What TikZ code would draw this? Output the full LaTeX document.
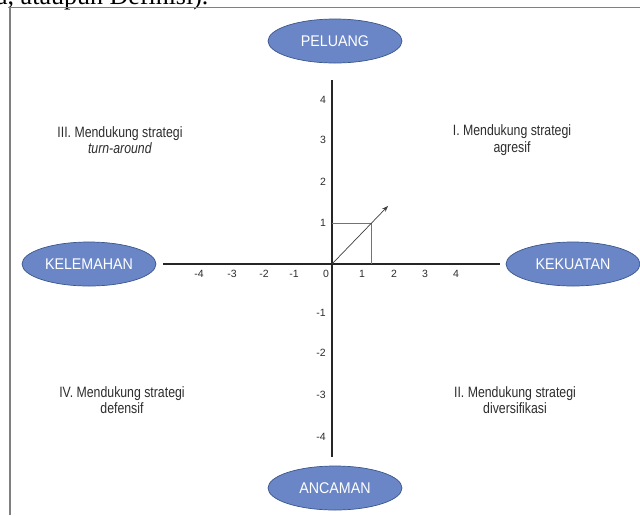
\documentclass[tikz,border=0pt]{standalone}
\usepackage{fontspec}
\setmainfont{Liberation Sans}
\newfontfamily\quadfont[FakeStretch=0.82]{Liberation Sans}
\newfontfamily\ovalfont[FakeStretch=0.92]{Liberation Sans}
\newfontfamily\topfont{Liberation Serif}
\usetikzlibrary{shapes.geometric,arrows.meta}
\definecolor{ovalfill}{RGB}{106,134,198}
\definecolor{ovaldraw}{RGB}{58,86,140}
\definecolor{framec}{RGB}{128,128,128}
\definecolor{txt}{RGB}{45,45,45}
\tikzset{
  oval/.style={ellipse, draw=ovaldraw, fill=ovalfill, line width=0.7pt,
    minimum width=134pt, minimum height=44pt, inner sep=0pt,
    text=white, font=\ovalfont\fontsize{15.5}{16}\selectfont},
  axis/.style={line width=1.7pt, draw=black!85},
  tick/.style={inner sep=0pt, text=txt, font=\fontsize{10.5}{11}\selectfont},
  quad/.style={align=center, inner sep=0pt, text=txt,
    font=\quadfont\fontsize{15}{16.5}\selectfont},
  helper/.style={line width=0.6pt, draw=black!55},
  vec/.style={line width=0.7pt, draw=black!75, -{Stealth[length=6pt,width=4.5pt]}}
}
\begin{document}
\begin{tikzpicture}[x=1pt,y=-1pt]
\useasboundingbox (0,0) rectangle (640,515);
\clip (0,0) rectangle (640,515);
\fill[white] (0,0) rectangle (640,515);
% cut-off text above the frame
\node[anchor=base west, inner sep=0pt, font=\topfont\fontsize{26}{26}\selectfont] (toptext) at (-4,4.5) {a, ataupun Definisi).};
% frame
\coordinate (fr) at (640,7.5);
\coordinate (ftl) at (10,7.5);
\coordinate (fbl) at (10,515);
\draw[framec, line width=1.3pt] (fr) -- (ftl) -- (fbl);
% axes
\coordinate (ytop) at (332,80);
\coordinate (ybot) at (332,457);
\coordinate (xleft) at (163,264);
\coordinate (xright) at (500,264);
\draw[axis] (ytop) -- (ybot);
\draw[axis] (xleft) -- (xright);
% ovals
\node[oval] (peluang) at (335,41) {PELUANG};
\node[oval] (ancaman) at (335,488) {ANCAMAN};
\node[oval] (kelemahan) at (89,264) {KELEMAHAN};
\node[oval] (kekuatan) at (573,264) {KEKUATAN};
% x tick labels
\node[tick] (xm4) at (199,274) {-4};
\node[tick] (xm3) at (232,274) {-3};
\node[tick] (xm2) at (264,274) {-2};
\node[tick] (xm1) at (294,274) {-1};
\node[tick] (x0) at (326,274) {0};
\node[tick] (xp1) at (362,274) {1};
\node[tick] (xp2) at (394,274) {2};
\node[tick] (xp3) at (425,274) {3};
\node[tick] (xp4) at (456,274) {4};
% y tick labels
\node[tick] (yp4) at (323,100) {4};
\node[tick] (yp3) at (323,140) {3};
\node[tick] (yp2) at (323,182) {2};
\node[tick] (yp1) at (323,223) {1};
\node[tick] (ym1) at (321,313) {-1};
\node[tick] (ym2) at (321,353) {-2};
\node[tick] (ym3) at (321,395) {-3};
\node[tick] (ym4) at (321,437) {-4};
% helper box and vector
\coordinate (o) at (332,264);
\coordinate (y1) at (332,223);
\coordinate (p) at (371,223);
\coordinate (x1) at (371,264);
\coordinate (tip) at (388,206);
\draw[helper] (y1) -- (p) -- (x1);
\draw[vec] (o) -- (tip);
% quadrant texts
\node[quad] (q1) at (512,140) {I. Mendukung strategi\\agresif};
\node[quad] (q2) at (515,400) {II. Mendukung strategi\\diversifikasi};
\node[quad] (q3) at (120,140) {III. Mendukung strategi\\\textit{turn-around}};
\node[quad] (q4) at (122,400) {IV. Mendukung strategi\\defensif};
\end{tikzpicture}
\end{document}
